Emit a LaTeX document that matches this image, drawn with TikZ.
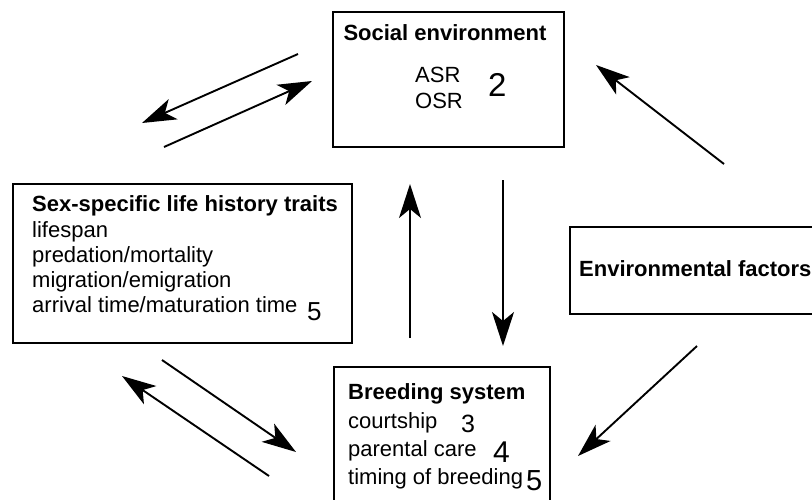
\documentclass[tikz,border=0pt]{standalone}
\usepackage{fontspec}
\setmainfont{Liberation Sans}
\usetikzlibrary{arrows.meta}
\begin{document}
\begin{tikzpicture}[x=1pt,y=-1pt,
  box/.style={draw, line width=2.2pt, inner sep=0pt, anchor=north west},
  txt/.style={inner sep=0pt, anchor=base west, font=\fontsize{22}{25}\selectfont},
  ttl/.style={inner sep=0pt, anchor=base west, font=\fontsize{22}{25}\selectfont\bfseries},
  num/.style={inner sep=0pt, anchor=base west, text depth=0pt, font=\fontsize{#1}{#1}\selectfont},
  arr/.style={line width=1.9pt, -{Stealth[length=34pt,width=22pt,inset=9pt]}},
]
\useasboundingbox (0,0) rectangle (812,499);

% boxes
\node[box, minimum width=231pt, minimum height=135pt] (soc) at (332,11) {};
\node[box, minimum width=339pt, minimum height=159pt] (life) at (12,183) {};
\node[box, minimum width=216pt, minimum height=150pt] (breed) at (333,366) {};
\node[box, minimum width=280pt, minimum height=87pt] (env) at (569,226) {};

% social environment
\node[ttl, anchor=base] (socT) at (445,40) {Social environment};
\node[txt] (asr) at (415,82) {ASR};
\node[txt] (osr) at (415,108) {OSR};
\node[num=33] (n2) at (488,96) {2};

% life history
\node[ttl] (lifeT) at (32,211) {Sex-specific life history traits};
\node[txt] (l1) at (32,237) {lifespan};
\node[txt] (l2) at (32,262) {predation/mortality};
\node[txt] (l3) at (32,287) {migration/emigration};
\node[txt] (l4) at (32,312) {arrival time/maturation time};
\node[num=26] (n5a) at (307,320) {5};

% breeding system
\node[ttl] (breedT) at (348,399) {Breeding system};
\node[txt] (b1) at (348,428) {courtship};
\node[txt] (b2) at (348,456) {parental care};
\node[txt] (b3) at (348,484) {timing of breeding};
\node[num=25] (n3) at (461,432) {3};
\node[num=30] (n4) at (493,462) {4};
\node[num=29] (n5b) at (526,490) {5};

% environmental factors
\node[ttl] (envT) at (579,276) {Environmental factors};

% arrow end points
\coordinate (p1s) at (298,54);  \coordinate (p1e) at (142,123);
\coordinate (p2s) at (164,147); \coordinate (p2e) at (312,81);
\coordinate (p3s) at (162,360); \coordinate (p3e) at (296,452);
\coordinate (p4s) at (269,476); \coordinate (p4e) at (122,376);
\coordinate (p5s) at (410,338); \coordinate (p5e) at (410,184);
\coordinate (p6s) at (503,180); \coordinate (p6e) at (503,346);
\coordinate (p7s) at (724,164); \coordinate (p7e) at (596,65);
\coordinate (p8s) at (697,346); \coordinate (p8e) at (578,456);

\draw[arr] (p1s) -- (p1e);
\draw[arr] (p2s) -- (p2e);
\draw[arr] (p3s) -- (p3e);
\draw[arr] (p4s) -- (p4e);
\draw[arr] (p5s) -- (p5e);
\draw[arr] (p6s) -- (p6e);
\draw[arr] (p7s) -- (p7e);
\draw[arr] (p8s) -- (p8e);
\end{tikzpicture}
\end{document}
